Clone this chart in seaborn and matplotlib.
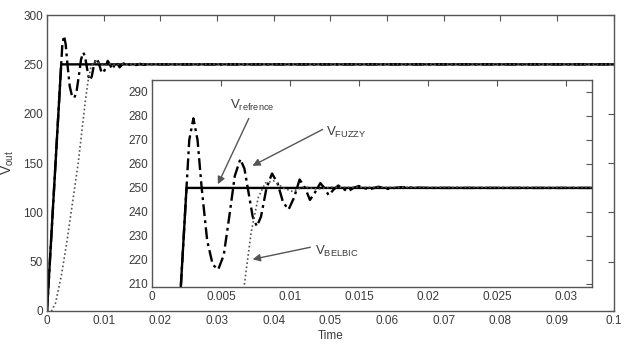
import numpy as np
import matplotlib
matplotlib.use("Agg")
import matplotlib.pyplot as plt
from matplotlib.ticker import FuncFormatter
import seaborn as sns
import pandas as pd

# values
t_ref = [0.0, 0.0025, 0.1]
v_ref = [0, 250, 250]

t_fuzzy = [0.0, 0.0022, 0.0025, 0.0027, 0.0030, 0.0033, 0.0036, 0.0040, 0.0044, 0.0048,
           0.0052, 0.0056, 0.0060, 0.0064, 0.0067, 0.0070, 0.0073, 0.0076, 0.0079, 0.0083,
           0.0087, 0.0091, 0.0095, 0.0099, 0.0103, 0.0107, 0.0111, 0.01145, 0.0118, 0.0122,
           0.0125, 0.0128, 0.0132, 0.0135, 0.0139, 0.0142, 0.0146, 0.0150, 0.0157, 0.0164,
           0.0171, 0.0180, 0.0200, 0.1]
v_fuzzy = [0, 220, 250, 270, 279, 270, 250, 228, 218, 216,
           222, 238, 255, 262, 258, 248, 238, 234, 238, 250,
           256, 252, 244, 241, 246, 253.5, 250, 245, 248, 252,
           250, 247, 249.5, 251, 249.5, 248.5, 250, 250.8, 249.3, 250.5,
           249.6, 250.3, 250, 250]

t_belbic = [0.0, 0.0008, 0.0015, 0.0025, 0.0035, 0.0045, 0.0055, 0.0062, 0.0067, 0.0072,
            0.0077, 0.0082, 0.0088, 0.0095, 0.0102, 0.0110, 0.0120, 0.0130, 0.1]
v_belbic = [0, 0, 8, 35, 70, 110, 150, 185, 210, 232,
            246, 252, 253, 250, 248.5, 250.5, 249.5, 250.3, 250]

main_xticks = [0, 0.01, 0.02, 0.03, 0.04, 0.05, 0.06, 0.07, 0.08, 0.09, 0.1]
main_yticks = [0, 50, 100, 150, 200, 250, 300]
inset_xticks = [0, 0.005, 0.01, 0.015, 0.02, 0.025, 0.03]
inset_yticks = [210, 220, 230, 240, 250, 260, 270, 280, 290]

sns.set_style("white")
plt.rcParams['font.family'] = ['Liberation Sans', 'DejaVu Sans']
plt.rcParams['mathtext.fontset'] = 'custom'
plt.rcParams['mathtext.rm'] = 'Liberation Sans'
plt.rcParams['mathtext.it'] = 'Liberation Sans'

txt = '#3a3a3a'
spine = '#555555'
dashdot = (0, (5, 1.8, 1.2, 1.8))

fig = plt.figure(figsize=(6.39, 3.54), dpi=100)
ax = fig.add_axes([0.0736, 0.1215, 0.887, 0.836])
ins = fig.add_axes([0.2379, 0.1893, 0.6886, 0.5847])


def draw(a):
    sns.lineplot(x=t_ref, y=v_ref, ax=a, color='k', lw=1.7, linestyle='-')
    sns.lineplot(x=t_fuzzy, y=v_fuzzy, ax=a, color='k', lw=1.7, linestyle=dashdot)
    sns.lineplot(x=t_belbic, y=v_belbic, ax=a, color='#555555', lw=1.2, linestyle=(0, (1, 1.5)))


def style(a):
    for s in a.spines.values():
        s.set_visible(True)
        s.set_color(spine)
        s.set_linewidth(1.0)
    a.tick_params(direction='in', top=True, right=True, length=4, width=0.8,
                  colors=spine, labelcolor=txt, labelsize=8.5, pad=3)
    a.xaxis.set_major_formatter(FuncFormatter(lambda v, p: '%g' % round(v, 6)))
    a.set_xlabel('')
    a.set_ylabel('')


draw(ax)
ax.set_xlim(0, 0.1)
ax.set_ylim(0, 300)
ax.set_xticks(main_xticks)
ax.set_yticks(main_yticks)
style(ax)
ax.set_xlabel('Time', color=txt, fontsize=8.5, labelpad=2)
ax.set_ylabel(r'V$_{\mathrm{out}}$', color=txt, fontsize=10, labelpad=5)

ins.set_facecolor('white')
draw(ins)
ins.set_xlim(0, 0.0319)
ins.set_ylim(208.7, 295)
ins.set_xticks(inset_xticks)
ins.set_yticks(inset_yticks)
style(ins)

arrow = dict(arrowstyle='-|>', color='#555555', lw=1.0, mutation_scale=11)
ins.annotate('', xy=(0.00469, 250.5), xytext=(0.0071, 280), arrowprops=arrow)
ins.annotate('', xy=(0.0071, 258.7), xytext=(0.01254, 274.9), arrowprops=arrow)
ins.annotate('', xy=(0.0071, 220), xytext=(0.01167, 225.5), arrowprops=arrow)
ins.text(0.00565, 283, r'V$_{\mathrm{refrence}}$', fontsize=9.5, color=txt)
ins.text(0.0126, 271.5, r'V$_{\mathrm{FUZZY}}$', fontsize=9.5, color=txt)
ins.text(0.0118, 222, r'V$_{\mathrm{BELBIC}}$', fontsize=9.5, color=txt)

fig.savefig('out.png', dpi=100)
